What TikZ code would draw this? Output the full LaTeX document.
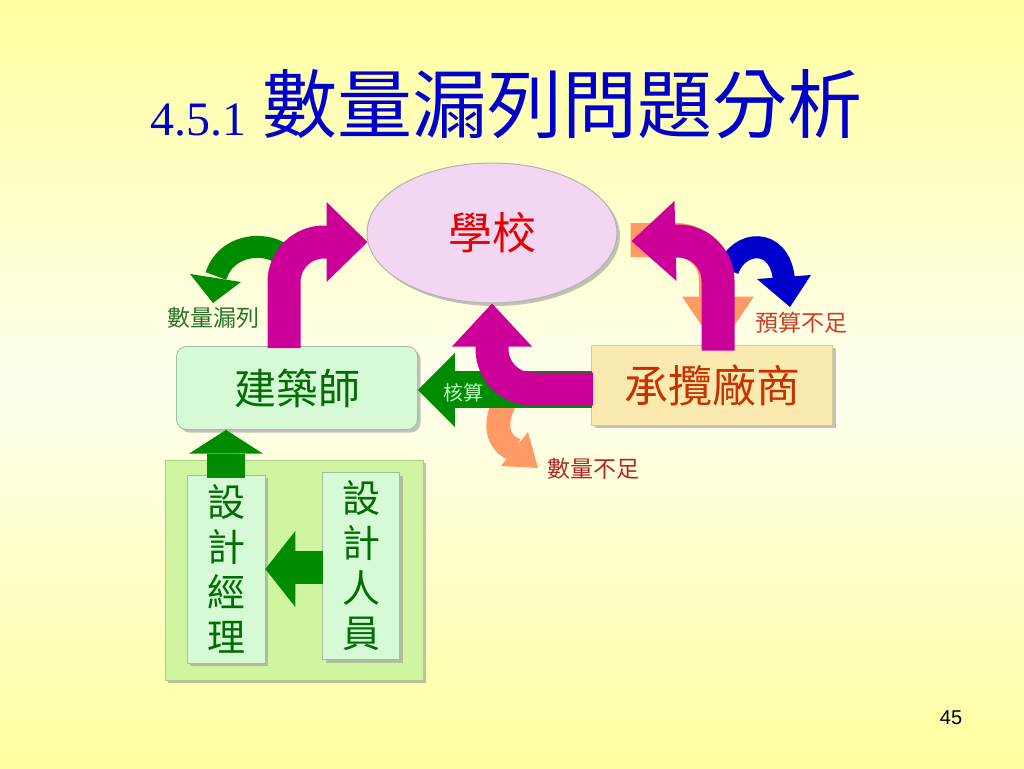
\documentclass[tikz,border=0pt]{standalone}
\usepackage{fontspec}
\setmainfont{Liberation Serif}
\setsansfont{Liberation Sans}
\newfontfamily\cjk{Noto Sans CJK TC}
\usetikzlibrary{positioning,calc,shapes.geometric,shadows}

\definecolor{bgyellow}{RGB}{255,255,160}
\definecolor{bglight}{RGB}{255,255,238}
\definecolor{titleblue}{RGB}{0,0,204}
\definecolor{magarrow}{RGB}{204,0,153}
\definecolor{grnarrow}{RGB}{0,140,0}
\definecolor{orgarrow}{RGB}{255,153,102}
\definecolor{bluarrow}{RGB}{0,0,204}
\definecolor{schoolfill}{RGB}{242,214,242}
\definecolor{schoolred}{RGB}{230,0,0}
\definecolor{archfill}{RGB}{214,250,214}
\definecolor{archedge}{RGB}{160,190,160}
\definecolor{archgreen}{RGB}{0,110,0}
\definecolor{contfill}{RGB}{250,234,176}
\definecolor{contedge}{RGB}{215,200,150}
\definecolor{contred}{RGB}{200,50,0}
\definecolor{teamfill}{RGB}{208,245,160}
\definecolor{teamedge}{RGB}{175,205,130}
\definecolor{lblgreen}{RGB}{40,115,40}
\definecolor{lblred}{RGB}{205,60,40}
\definecolor{lblbrown}{RGB}{175,40,40}

\begin{document}
\begin{tikzpicture}[x=1pt,y=-1pt,
  shadowed/.style={drop shadow={shadow xshift=3pt,shadow yshift=-3pt,fill=black!40,opacity=0.6}},
  cjkfont/.style={font=\cjk\fontsize{#1}{#1}\selectfont},
  magshaft/.style={draw=magarrow, line width=33pt, rounded corners=40pt},
  orgshaft/.style={draw=orgarrow, line width=34pt, rounded corners=40pt}]
\useasboundingbox (0,0) rectangle (1024,768);
\shade[top color=bgyellow, bottom color=bgyellow, middle color=bglight] (0,0) rectangle (1024,768);

% title
\node[anchor=base west, inner sep=0pt, text=titleblue, font=\fontsize{48}{48}\selectfont] (num) at (150,135) {4.5.1};
\node[anchor=base west, inner sep=0pt, text=titleblue, cjkfont=75] (title) at (262,132) {數量漏列問題分析};

% boxes
\node[ellipse, draw=gray!60, line width=1pt, fill=schoolfill, shadowed, minimum width=250pt, minimum height=140pt, text=schoolred, cjkfont=44] (school) at (492,233) {學校};
\node[draw=archedge, line width=0.8pt, fill=archfill, rounded corners=10pt, shadowed, minimum width=241pt, minimum height=83pt, text=archgreen, cjkfont=42] (arch) at (297,388) {建築師};
\node[draw=contedge, line width=0.8pt, fill=contfill, shadowed, minimum width=241pt, minimum height=80pt, text=contred, cjkfont=44] (cont) at (712,385) {承攬廠商};
\node[draw=teamedge, line width=0.8pt, fill=teamfill, shadowed, minimum width=258pt, minimum height=220pt] (team) at (294,570) {};
\node[draw=archedge, line width=0.6pt, fill=archfill, shadowed, minimum width=78pt, minimum height=188pt, align=center, text=archgreen, font=\cjk\fontsize{38}{45}\selectfont] (mgr) at (226,569) {設\\計\\經\\理};
\node[draw=archedge, line width=0.6pt, fill=archfill, shadowed, minimum width=77pt, minimum height=187pt, align=center, text=archgreen, font=\cjk\fontsize{38}{45}\selectfont] (staff) at (361,566) {設\\計\\人\\員};

% green straight arrows
\fill[grnarrow] ($(mgr.north)+(-19,3)$) rectangle ($(mgr.north)+(19,-21)$);
\fill[grnarrow] ($(mgr.north)+(-37,-21)$) -- (mgr.north |- arch.south) -- ($(mgr.north)+(37,-21)$) -- cycle;
\fill[grnarrow] ($(mgr.east)+(30,-18)$) rectangle ($(staff.west)+(1,18)$);
\fill[grnarrow] ($(mgr.east)+(30,-38)$) -- (mgr.east) -- ($(mgr.east)+(30,38)$) -- cycle;

% hidden orange and blue arrows on the right
\draw[orgshaft] ($(school.east)+(13,7)$) -| ($(cont.north)+(4,-46)$);
\fill[orgarrow] ($(cont.north)+(-30,-48)$) -- ($(cont.north)+(6,5)$) -- ($(cont.north)+(42,-48)$) -- cycle;
\draw[bluarrow, line width=22pt] (728,270) .. controls (738,240) and (780,236) .. (784,280);
\fill[bluarrow] (757,279) -- (790,307) -- (811,275) -- cycle;

% curved arrows on the left and below
\draw[grnarrow, line width=22pt] (292,266) .. controls (281,240) and (228,238) .. (216,276);
\fill[grnarrow] (190,274) -- (213,303) -- (241,282) -- cycle;
\draw[orgarrow, line width=24pt] (506,398) .. controls (493,425) and (497,442) .. (515,450);
\fill[orgarrow] (501,466) -- (538,468) -- (528,432) -- cycle;

% check arrow
\fill[grnarrow] ($(arch.east)+(37,-17)$) rectangle ($(cont.west |- arch.east)+(1,20)$);
\fill[grnarrow] ($(arch.east)+(37,-35)$) -- ($(arch.east)+(0,2)$) -- ($(arch.east)+(37,39)$) -- cycle;
\node[anchor=west, inner sep=0pt, text=green!25, cjkfont=20] (check) at (443,393) {核算};

% magenta bent arrows
\draw[magshaft] ($(arch.north)+(-13,2)$) |- ($(school.west)+(-36,9)$);
\fill[magarrow] ($(school.west)+(-40,-31)$) -- ($(school.west)+(1,9)$) -- ($(school.west)+(-40,49)$) -- cycle;
\draw[magshaft] ($(cont.west)+(2,4)$) -| ($(school.south)+(0,40)$);
\fill[magarrow] ($(school.south)+(-40,43)$) -- (school.south) -- ($(school.south)+(40,43)$) -- cycle;
\draw[magshaft] ($(cont.north)+(6,6)$) |- ($(school.east)+(55,8)$);
\fill[magarrow] ($(school.east)+(57,-32)$) -- ($(school.east)+(14,8)$) -- ($(school.east)+(59,48)$) -- cycle;

% labels
\node[text=lblgreen, cjkfont=23] (lost) at (213,318) {數量漏列};
\node[text=lblred, cjkfont=23] (budget) at (801,323) {預算不足};
\node[text=lblbrown, cjkfont=23] (short) at (593,469) {數量不足};
\node[font=\sffamily\fontsize{20}{20}\selectfont] (page) at (951,718) {45};
\end{tikzpicture}
\end{document}
